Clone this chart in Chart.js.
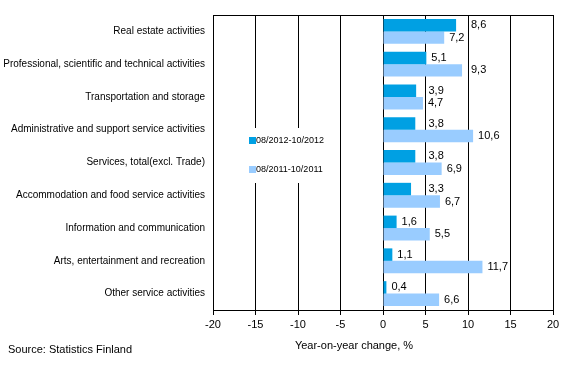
<!DOCTYPE html>
<html><head><meta charset="utf-8">
<script src="https://cdn.jsdelivr.net/npm/chart.js@4.4.0/dist/chart.umd.min.js"></script>
<style>html,body{margin:0;padding:0;background:#fff}#c{display:block}</style>
</head><body>
<canvas id="c" width="569" height="374"></canvas>
<script>
const categories = [
  "Real estate activities",
  "Professional, scientific and technical activities",
  "Transportation and storage",
  "Administrative and support service activities",
  "Services, total(excl. Trade)",
  "Accommodation and food service activities",
  "Information and communication",
  "Arts, entertainment and recreation",
  "Other service activities"
];
const series2012 = [8.6, 5.1, 3.9, 3.8, 3.8, 3.3, 1.6, 1.1, 0.4];
const series2011 = [7.2, 9.3, 4.7, 10.6, 6.9, 6.7, 5.5, 11.7, 6.6];
const seriesNames = ["08/2012-10/2012", "08/2011-10/2011"];
const xTicks = [-20, -15, -10, -5, 0, 5, 10, 15, 20];
const axisTitle = "Year-on-year change, %";
const sourceText = "Source: Statistics Finland";

const DARK = "#00a0e3";
const LIGHT = "#99ccff";
const FONT = "Liberation Sans, Arial, sans-serif";

const fmt = v => v.toFixed(1).replace(".", ",");

const overlay = {
  id: "overlay",
  afterDatasetsDraw(chart) {
    const ctx = chart.ctx;
    const a = chart.chartArea;
    const xs = chart.scales.x;
    const gridPx = xTicks.map(v => xs.getPixelForValue(v));
    ctx.save();
    // frame
    ctx.strokeStyle = "#000";
    ctx.lineWidth = 1;
    ctx.strokeRect(Math.round(a.left) + 0.5, Math.round(a.top) + 0.5, Math.round(a.right - a.left), Math.round(a.bottom - a.top));
    // value labels (shifted past a gridline if they would cross it)
    ctx.font = "11px " + FONT;
    ctx.fillStyle = "#000";
    ctx.textAlign = "left";
    ctx.textBaseline = "middle";
    chart.data.datasets.forEach((ds, i) => {
      const meta = chart.getDatasetMeta(i);
      meta.data.forEach((el, j) => {
        const t = fmt(ds.data[j]);
        const w = ctx.measureText(t).width;
        let x = el.x + 5;
        gridPx.forEach(g => { if (g > el.x + 1 && g >= x - 1 && g <= x + w + 1) x = g + 3; });
        ctx.fillText(t, x, el.y);
      });
    });
    // legend box
    const lx = a.left + 3, ly = a.top + 113, lw = 118, lh = 55;
    ctx.fillStyle = "#fff";
    ctx.fillRect(lx, ly, lw, lh);
    const items = [[DARK, seriesNames[0], a.top + 125], [LIGHT, seriesNames[1], a.top + 154]];
    items.forEach(([col, txt, y]) => {
      ctx.fillStyle = col;
      ctx.fillRect(a.left + 36, y - 3, 7, 7);
      ctx.fillStyle = "#000";
      ctx.font = "9px " + FONT;
      ctx.fillText(txt, a.left + 43, y + 1);
    });
    // axis title and source
    ctx.font = "11px " + FONT;
    ctx.textAlign = "center";
    ctx.fillText(axisTitle, 354, 346);
    ctx.textAlign = "left";
    ctx.fillText(sourceText, 8, 350);
    ctx.restore();
  }
};

new Chart(document.getElementById("c"), {
  type: "bar",
  data: {
    labels: categories,
    datasets: [
      { label: seriesNames[0], data: series2012, backgroundColor: DARK, categoryPercentage: 0.76, barPercentage: 1.0 },
      { label: seriesNames[1], data: series2011, backgroundColor: LIGHT, categoryPercentage: 0.76, barPercentage: 1.0 }
    ]
  },
  options: {
    indexAxis: "y",
    responsive: false,
    animation: false,
    devicePixelRatio: 1,
    layout: { padding: { left: 0, right: 16, top: 15, bottom: 0 } },
    plugins: { legend: { display: false }, tooltip: { enabled: false } },
    scales: {
      x: {
        min: -20, max: 20,
        afterBuildTicks: s => { s.ticks = xTicks.map(v => ({ value: v })); },
        afterFit: s => { s.height = 64; },
        grid: { color: "#000", lineWidth: 1, drawTicks: true, tickLength: 5, tickColor: "#000" },
        border: { display: true, color: "#000" },
        ticks: { color: "#000", font: { family: FONT, size: 11 }, padding: 3, maxRotation: 0 }
      },
      y: {
        afterFit: s => { s.width = 213; },
        grid: { display: false, drawTicks: false },
        border: { display: true, color: "#000" },
        ticks: { color: "#000", font: { family: FONT, size: 10 }, padding: 8, autoSkip: false }
      }
    }
  },
  plugins: [overlay]
});
</script>
</body></html>
